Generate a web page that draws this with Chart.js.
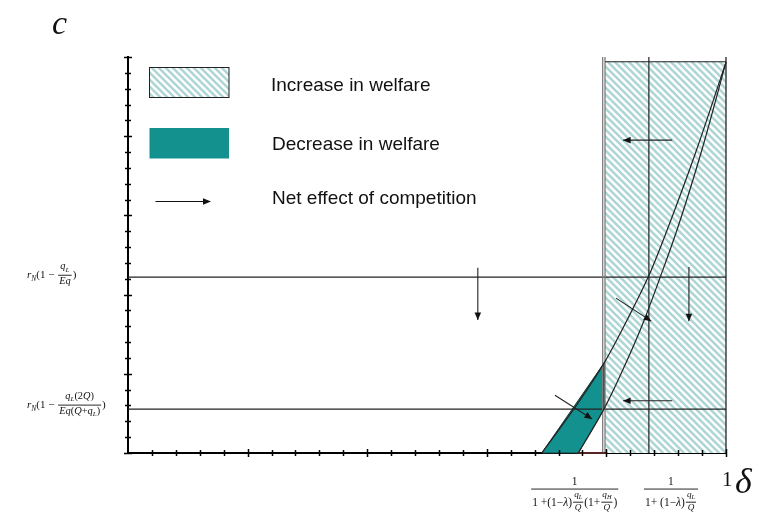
<!DOCTYPE html>
<html>
<head>
<meta charset="utf-8">
<script src="https://cdn.jsdelivr.net/npm/chart.js@4.4.1/dist/chart.umd.min.js"></script>
<style>
  html, body { margin: 0; padding: 0; background: #fff; }
</style>
</head>
<body>
<canvas id="welfare" width="762" height="516"></canvas>
<script>
// Welfare effect of competition in the (delta, c) plane.

// thresholds on the delta axis
const deltaEdgeOuter = 0.7938;   // outer line of the double boundary
const deltaEdge = 0.7977;        // left boundary of the welfare-increase region
const deltaMid = 0.871;          // second delta threshold
// cost thresholds on the c axis
const cHigh = 0.444;
const cLow = 0.111;
const regionTop = 0.988;

// boundary curves (delta, c)
const curveAx = [0.692, 0.745, 0.796, 0.836, 0.871, 0.900, 0.950, 1.000];
const curveAy = [0.000, 0.110, 0.227, 0.340, 0.448, 0.557, 0.762, 0.987];
const curveBx = [0.753, 0.796, 0.826, 0.861, 0.890, 0.920, 0.960, 1.000];
const curveBy = [0.000, 0.111, 0.205, 0.327, 0.444, 0.572, 0.767, 0.987];

// welfare-decrease region between the two curves
const lossX = [0.692, 0.796, 0.796, 0.753, 0.692];
const lossY = [0.000, 0.227, 0.111, 0.000, 0.000];

// net effect arrows: [x0, y0, x1, y1]
const arrows = [
  [0.910, 0.790, 0.828, 0.790],
  [0.585, 0.468, 0.585, 0.336],
  [0.938, 0.470, 0.938, 0.333],
  [0.816, 0.391, 0.875, 0.333],
  [0.910, 0.132, 0.828, 0.132],
  [0.714, 0.146, 0.776, 0.086]
];

const legendLabels = ['Increase in welfare', 'Decrease in welfare', 'Net effect of competition'];

const serif = '"Liberation Serif", "Times New Roman", serif';
const T = (t, it) => ({ t, it: !!it });
const S = (t) => ({ t, it: true, sub: true });
const F = (n, d, k) => ({ n, d, k });

// math labels for the c axis thresholds
const yTickLabels = [
  { value: cHigh, items: [T('r', 1), S('N'), T('(1 − '), F([T('q', 1), S('L')], [T('Eq', 1)], 0.95), T(')')] },
  { value: cLow, items: [T('r', 1), S('N'), T('(1 − '),
      F([T('q', 1), S('L'), T('(2'), T('Q', 1), T(')')],
        [T('Eq', 1), T('('), T('Q', 1), T('+'), T('q', 1), S('L'), T(')')], 0.95), T(')')] }
];
// math labels for the delta axis thresholds
const xTickLabels = [
  { value: 0.747, items: [F([T('1')], [T('1 +(1−'), T('λ', 1), T(')'),
      F([T('q', 1), S('L')], [T('Q', 1)], 0.8), T('(1+'),
      F([T('q', 1), S('H')], [T('Q', 1)], 0.8), T(')')], 1)] },
  { value: 0.908, items: [F([T('1')], [T('1+ (1−'), T('λ', 1), T(')'),
      F([T('q', 1), S('L')], [T('Q', 1)], 0.8)], 1)] }
];

const pts = (xs, ys) => xs.map((x, i) => ({ x, y: ys[i] }));

const canvas = document.getElementById('welfare');
const ctx0 = canvas.getContext('2d');

// diagonal hatching used for the welfare-increase region
function makeHatch() {
  const s = 7;
  const tile = document.createElement('canvas');
  tile.width = s; tile.height = s;
  const g = tile.getContext('2d');
  g.fillStyle = '#ffffff';
  g.fillRect(0, 0, s, s);
  g.strokeStyle = '#aed6d5';
  g.lineWidth = 2.6;
  g.beginPath();
  g.moveTo(-1, -1); g.lineTo(s + 1, s + 1);
  g.moveTo(s - 2, -2); g.lineTo(s + 2, 2);
  g.moveTo(-2, s - 2); g.lineTo(2, s + 2);
  g.stroke();
  return ctx0.createPattern(tile, 'repeat');
}
const hatch = makeHatch();
const teal = '#12918f';

// --- small math typesetter for the fraction labels ---
function fontOf(r, sz) {
  return (r.it ? 'italic ' : '') + (r.sub ? sz * 0.68 : sz).toFixed(1) + 'px ' + serif;
}
function box(ctx, items, sz) {
  let w = 0, a = 0, d = 0;
  for (const r of items) {
    if (r.n) {
      const fs = sz * r.k;
      const N = box(ctx, r.n, fs), D = box(ctx, r.d, fs);
      const ax = sz * 0.3;
      w += Math.max(N.w, D.w) + 4;
      a = Math.max(a, ax + 1.5 + N.d + N.a);
      d = Math.max(d, -ax + 1.5 + D.a + D.d);
    } else {
      ctx.font = fontOf(r, sz);
      w += ctx.measureText(r.t).width;
      a = Math.max(a, sz * 0.68);
      d = Math.max(d, r.sub ? sz * 0.42 : sz * 0.2);
    }
  }
  return { w, a, d };
}
function render(ctx, items, x, base, sz) {
  for (const r of items) {
    if (r.n) {
      const fs = sz * r.k;
      const N = box(ctx, r.n, fs), D = box(ctx, r.d, fs);
      const w = Math.max(N.w, D.w) + 4;
      const ax = base - sz * 0.3;
      ctx.fillRect(x + 1, ax - 0.4, w - 2, 0.9);
      render(ctx, r.n, x + (w - N.w) / 2, ax - 1.5 - N.d, fs);
      render(ctx, r.d, x + (w - D.w) / 2, ax + 1.5 + D.a, fs);
      x += w;
    } else {
      ctx.font = fontOf(r, sz);
      ctx.fillText(r.t, x, base + (r.sub ? sz * 0.22 : 0));
      x += ctx.measureText(r.t).width;
    }
  }
  return x;
}

// axis tick marks crossing the axes, longer every fifth tick
const crossTicks = {
  id: 'crossTicks',
  afterDatasetsDraw(chart) {
    const { ctx, scales: { x, y } } = chart;
    ctx.save();
    ctx.strokeStyle = '#000';
    ctx.lineWidth = 1.5;
    ctx.beginPath();
    y.ticks.forEach((t, i) => {
      const py = Math.round(y.getPixelForValue(t.value)) + 0.5;
      const L = i % 5 === 0 ? 4 : 3;
      ctx.moveTo(x.left - L, py); ctx.lineTo(x.left + L, py);
    });
    x.ticks.forEach((t, i) => {
      if (i === 0) return;
      const px = Math.round(x.getPixelForValue(t.value)) + 0.5;
      const L = i % 5 === 0 ? 4 : 3;
      ctx.moveTo(px, y.bottom - L); ctx.lineTo(px, y.bottom + L);
    });
    ctx.stroke();
    ctx.restore();
  }
};

// arrow heads at the end of each arrow dataset
const arrowHeads = {
  id: 'arrowHeads',
  afterDatasetsDraw(chart) {
    const { ctx } = chart;
    ctx.save();
    ctx.fillStyle = '#111';
    chart.data.datasets.forEach((ds, i) => {
      if (!ds.isArrow) return;
      const m = chart.getDatasetMeta(i).data;
      const p0 = m[0], p1 = m[m.length - 1];
      const ang = Math.atan2(p1.y - p0.y, p1.x - p0.x);
      const L = 7.5, H = 3.3;
      ctx.beginPath();
      ctx.moveTo(p1.x, p1.y);
      ctx.lineTo(p1.x - L * Math.cos(ang) + H * Math.sin(ang), p1.y - L * Math.sin(ang) - H * Math.cos(ang));
      ctx.lineTo(p1.x - L * Math.cos(ang) - H * Math.sin(ang), p1.y - L * Math.sin(ang) + H * Math.cos(ang));
      ctx.closePath();
      ctx.fill();
    });
    ctx.restore();
  }
};

// axis names, threshold labels and the key
const annotations = {
  id: 'annotations',
  afterDraw(chart) {
    const { ctx, scales: { x, y } } = chart;
    ctx.save();
    ctx.fillStyle = '#111';
    ctx.textBaseline = 'alphabetic';

    // axis names
    ctx.font = 'italic 34px ' + serif;
    ctx.fillText('c', 52, 34);
    ctx.font = '21px ' + serif;
    ctx.fillText('1', x.right - 4, y.bottom + 33);
    ctx.font = 'italic 36px ' + serif;
    ctx.fillText('δ', x.right + 9, y.bottom + 40);

    // c thresholds
    yTickLabels.forEach((lab, i) => {
      const py = y.getPixelForValue(lab.value) - (i === 0 ? 2 : 4);
      render(ctx, lab.items, 27, py + 11 * 0.3, 11);
    });
    // delta thresholds
    xTickLabels.forEach((lab) => {
      const sz = 11.5;
      const b = box(ctx, lab.items, sz);
      const cx = x.getPixelForValue(lab.value);
      render(ctx, lab.items, cx - b.w / 2, y.bottom + 36 + sz * 0.3, sz);
    });

    // key
    const kx = 149.5, kw = 79.5;
    ctx.fillStyle = hatch;
    ctx.fillRect(kx, 67.5, kw, 30);
    ctx.strokeStyle = '#222';
    ctx.lineWidth = 1;
    ctx.strokeRect(kx, 67.5, kw, 30);
    ctx.fillStyle = teal;
    ctx.fillRect(kx, 128, kw, 30.5);

    ctx.strokeStyle = '#111';
    ctx.lineWidth = 1.2;
    ctx.beginPath();
    ctx.moveTo(155.5, 201.5); ctx.lineTo(205, 201.5);
    ctx.stroke();
    ctx.fillStyle = '#111';
    ctx.beginPath();
    ctx.moveTo(211, 201.5); ctx.lineTo(203, 198.3); ctx.lineTo(203, 204.7);
    ctx.closePath(); ctx.fill();

    ctx.font = '19px "Liberation Sans", Arial, sans-serif';
    ctx.textBaseline = 'middle';
    ctx.fillText(legendLabels[0], 271, 86);
    ctx.fillText(legendLabels[1], 272, 145);
    ctx.fillText(legendLabels[2], 272, 199);
    ctx.restore();
  }
};

const line = (data, color, width, order, extra) => Object.assign({
  data, showLine: true, fill: false, borderColor: color, borderWidth: width,
  pointRadius: 0, pointHoverRadius: 0, order, clip: 6
}, extra || {});

const datasets = [
  // welfare-increase region
  line([{ x: deltaEdge, y: 0 }, { x: deltaEdge, y: regionTop }, { x: 1, y: regionTop }, { x: 1, y: 0 }, { x: deltaEdge, y: 0 }],
       'rgba(0,0,0,0)', 0, 30, { fill: 'shape', backgroundColor: hatch }),
  // welfare-decrease region
  line(pts(lossX, lossY), '#1d3b3b', 1, 25, { fill: 'shape', backgroundColor: teal }),
  // region outline
  line([{ x: deltaEdge, y: regionTop }, { x: 1, y: regionTop }], '#222', 1.2, 10),
  line([{ x: 1, y: 0 }, { x: 1, y: 1 }], '#222', 1.3, 10),
  line([{ x: deltaEdgeOuter, y: 0 }, { x: deltaEdgeOuter, y: 1 }], '#7d7d7d', 1.3, 10),
  line([{ x: deltaEdge, y: 0 }, { x: deltaEdge, y: 1 }], '#7d7d7d', 1.3, 10),
  line([{ x: deltaMid, y: 0 }, { x: deltaMid, y: 1 }], '#222', 1.2, 10),
  // cost thresholds
  line([{ x: 0, y: cHigh }, { x: 1, y: cHigh }], '#222', 1.2, 10),
  line([{ x: 0, y: cLow }, { x: 1, y: cLow }], '#222', 1.2, 10),
  // boundary curves
  line(pts(curveAx, curveAy), '#222', 1.2, 5, { cubicInterpolationMode: 'monotone' }),
  line(pts(curveBx, curveBy), '#222', 1.2, 5, { cubicInterpolationMode: 'monotone' }),
  // axis segment under the decrease region
  line([{ x: 0.753, y: 0 }, { x: 0.8, y: 0 }], '#5a2424', 2, 4)
];
arrows.forEach(a => datasets.push(line([{ x: a[0], y: a[1] }, { x: a[2], y: a[3] }], '#222', 1.1, 2, { isArrow: true })));

new Chart(canvas, {
  type: 'scatter',
  data: { datasets },
  options: {
    responsive: false,
    animation: false,
    events: [],
    layout: { autoPadding: false, padding: { left: 128, right: 36, top: 57, bottom: 63 } },
    plugins: { legend: { display: false }, tooltip: { enabled: false } },
    scales: {
      x: {
        type: 'linear', min: 0, max: 1,
        ticks: { display: false, stepSize: 0.04 },
        grid: { drawOnChartArea: false, drawTicks: false },
        border: { display: true, color: '#000', width: 2 }
      },
      y: {
        type: 'linear', min: 0, max: 1,
        ticks: { display: false, stepSize: 0.04 },
        grid: { drawOnChartArea: false, drawTicks: false },
        border: { display: true, color: '#000', width: 2 }
      }
    }
  },
  plugins: [crossTicks, arrowHeads, annotations]
});
</script>
</body>
</html>
